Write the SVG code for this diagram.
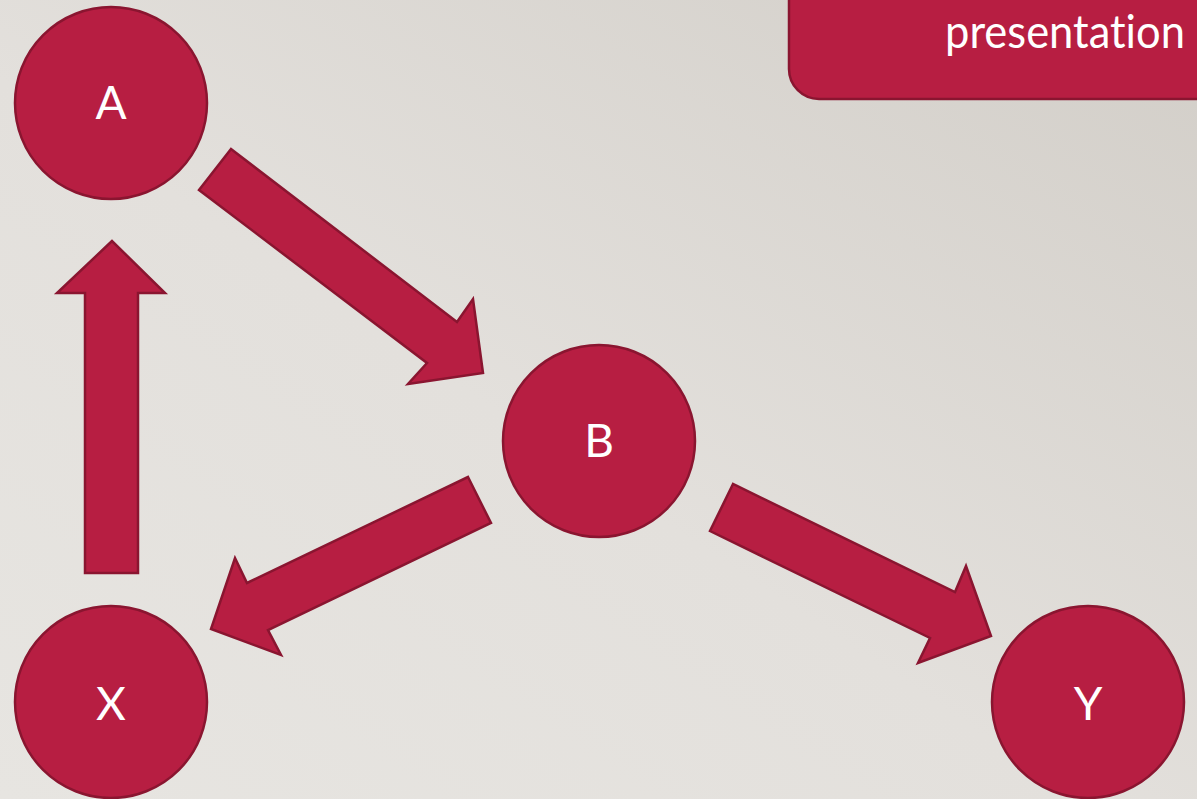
<svg xmlns="http://www.w3.org/2000/svg" width="1197" height="799" viewBox="0 0 1197 799">
  <defs>
    <linearGradient id="bg" x1="0" y1="1" x2="1" y2="0">
      <stop offset="0" stop-color="#E7E5E1"/>
      <stop offset="0.45" stop-color="#E3E0DC"/>
      <stop offset="1" stop-color="#D2CEC8"/>
    </linearGradient>
    <style>
      .shape { fill: #B71E42; stroke: #8A1530; stroke-width: 2.5; stroke-linejoin: miter; }
      .label { fill: #FFFFFF; font-family: Lato, "Open Sans", "Liberation Sans", sans-serif; font-size: 46px; text-anchor: middle; }
      .title { fill: #FFFFFF; font-family: Lato, "Open Sans", "Liberation Sans", sans-serif; font-size: 46px; text-anchor: end; font-variant-ligatures: none; }
    </style>
  </defs>

  <!-- backdrop -->
  <rect x="0" y="0" width="1197" height="799" fill="url(#bg)"/>

  <!-- title panel in the top-right corner -->
  <g id="title-panel">
    <rect class="shape" x="789" y="-40" width="450" height="139" rx="30" ry="30"/>
    <text class="title" x="1185" y="48" textLength="240" lengthAdjust="spacingAndGlyphs">presentation</text>
  </g>

  <!-- block arrows between the nodes -->
  <g id="connectors">
    <polygon id="a-to-b" class="shape" points="199,190 231,149 457,322 473,299 483,373 408,384 427,363"/>
    <polygon id="x-to-a" class="shape" points="112,241 57,293 85,293 85,573 138,573 138,293 165,293"/>
    <polygon id="b-to-x" class="shape" points="468,477 491,523 268,630 281,655 211,629 235,558 247,583"/>
    <polygon id="b-to-y" class="shape" points="733,484 710,531 930,638 918,663 991,636 966,566 955,592"/>
  </g>

  <g id="node-a">
    <circle class="shape" cx="111" cy="103" r="96"/>
    <text class="label" x="111" y="119">A</text>
  </g>
  <g id="node-b">
    <circle class="shape" cx="599" cy="441" r="96"/>
    <text class="label" x="599" y="457">B</text>
  </g>
  <g id="node-x">
    <circle class="shape" cx="111" cy="702" r="96"/>
    <text class="label" x="111" y="720">X</text>
  </g>
  <g id="node-y">
    <circle class="shape" cx="1088" cy="702" r="96"/>
    <text class="label" x="1088" y="720">Y</text>
  </g>
</svg>
